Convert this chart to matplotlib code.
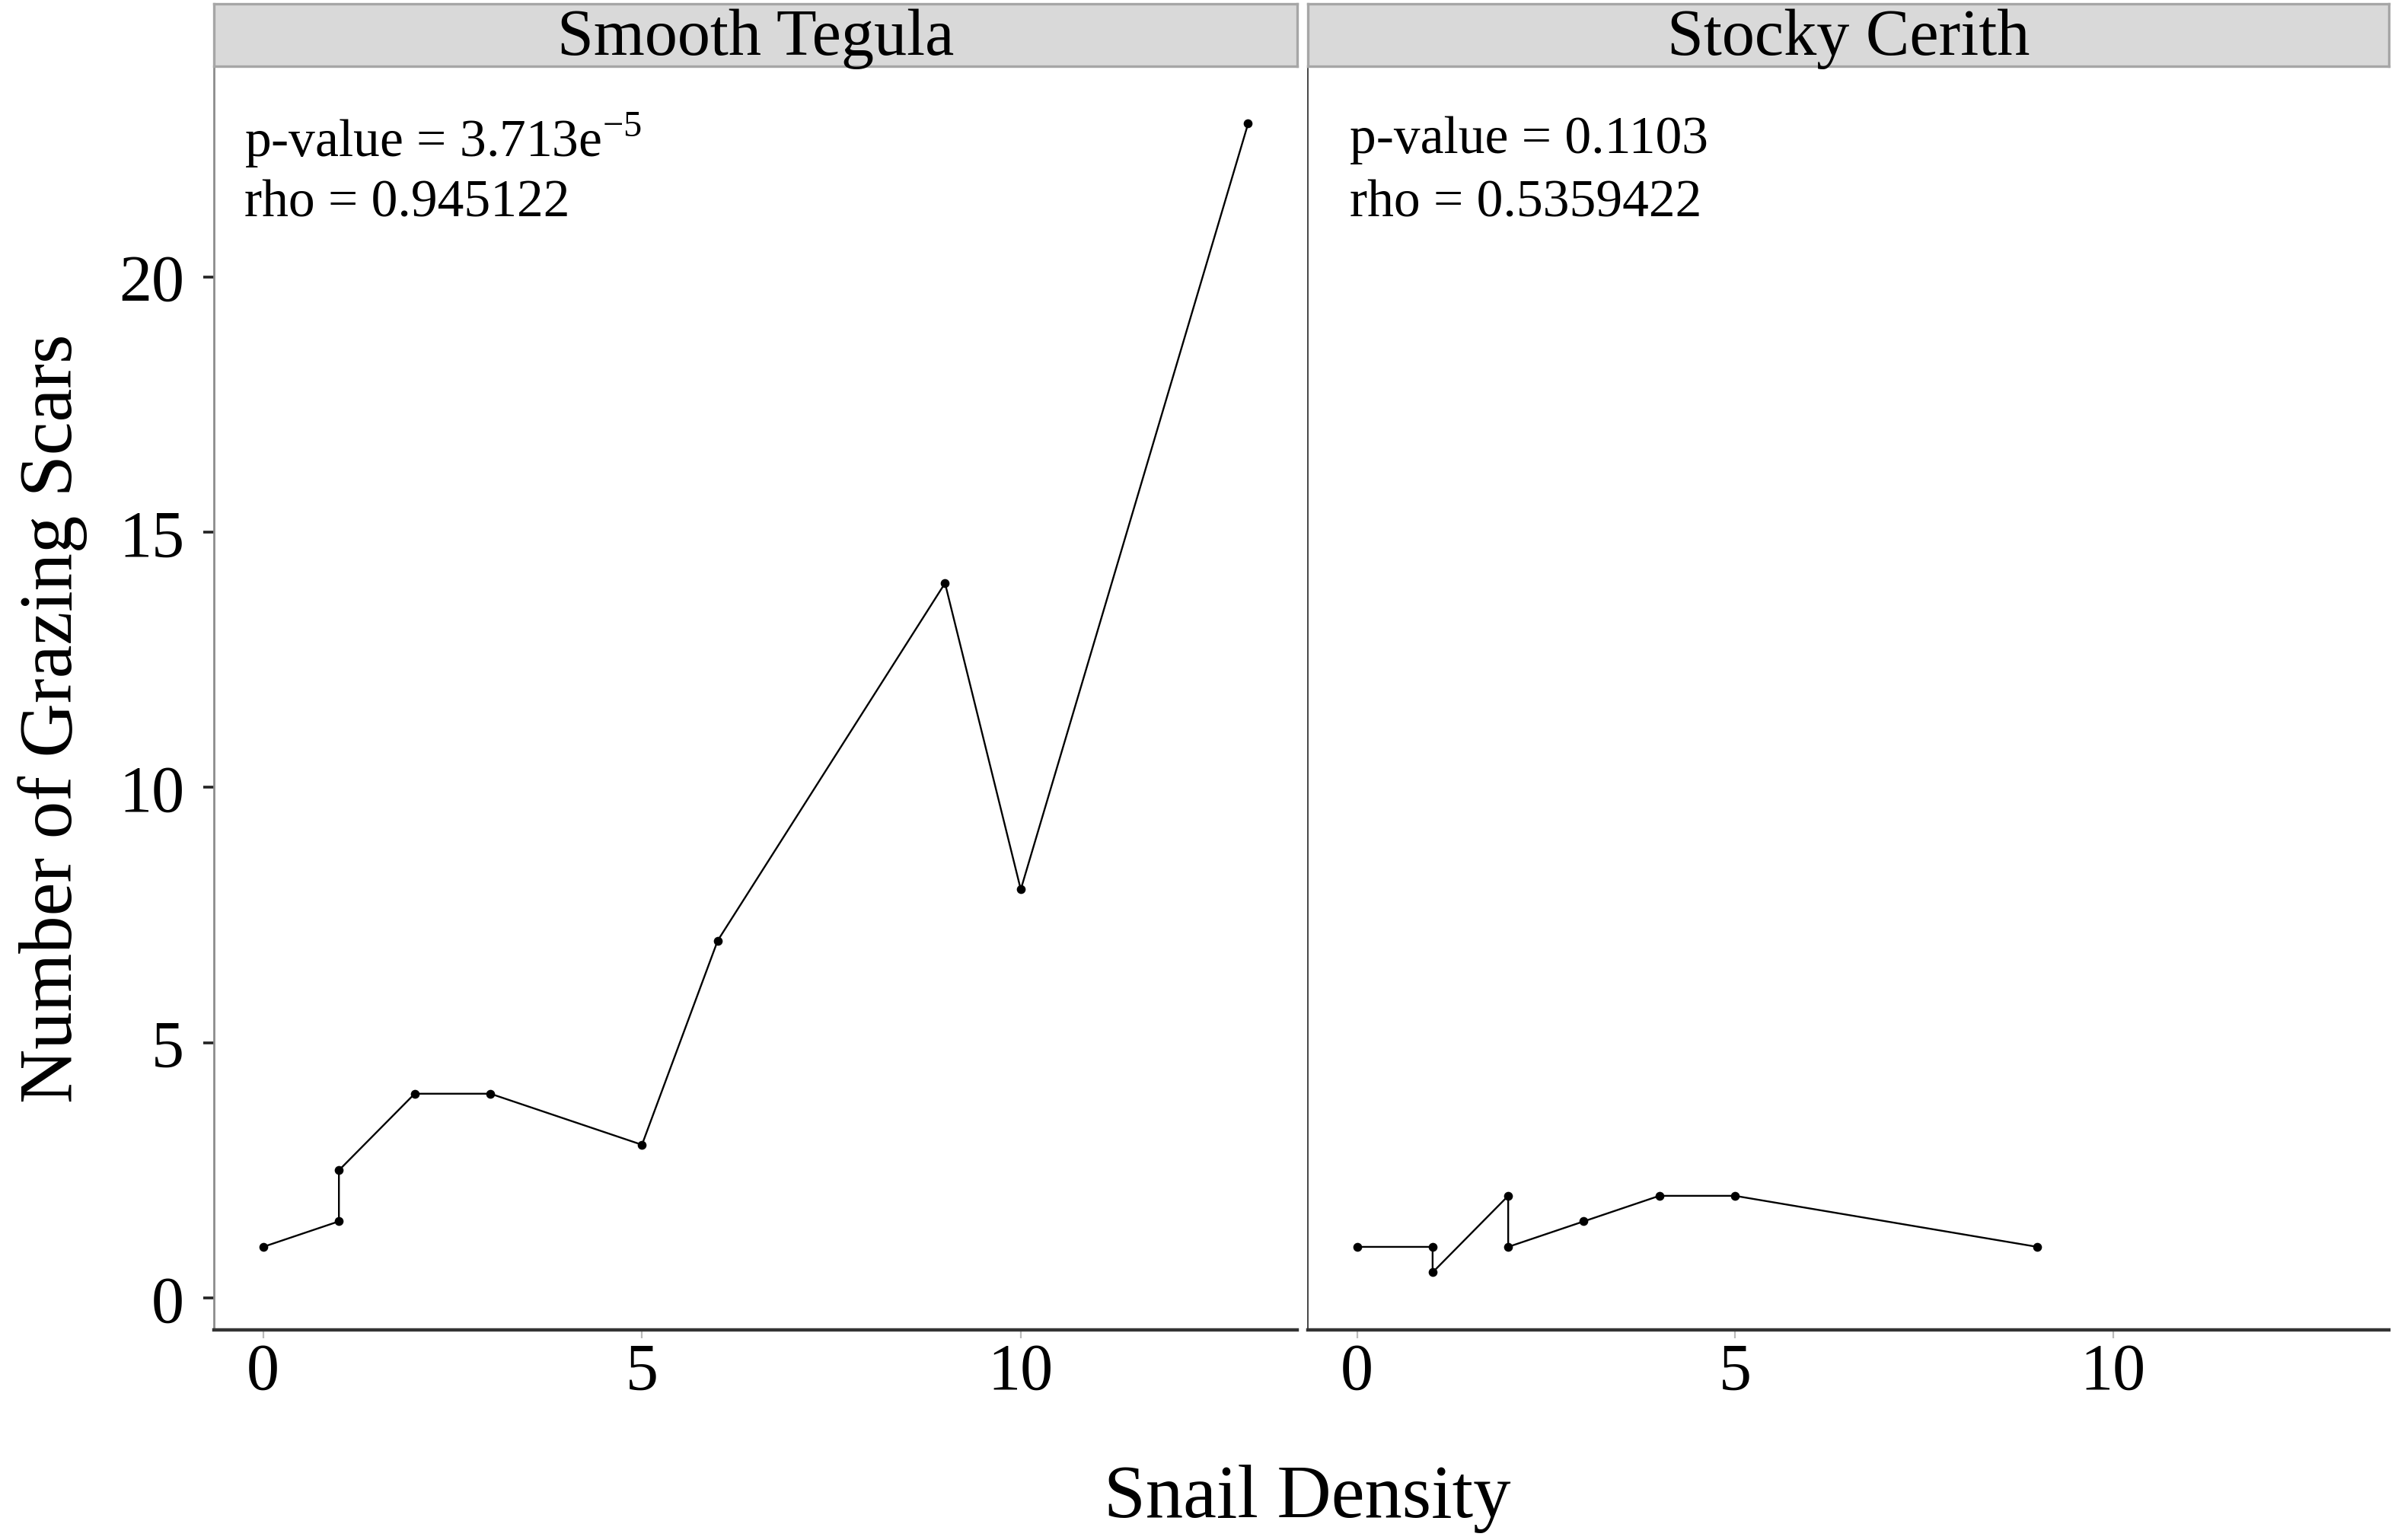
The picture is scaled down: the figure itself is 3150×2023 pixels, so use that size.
import matplotlib
matplotlib.use("Agg")
import matplotlib.pyplot as plt

# Data
panel_titles = ["Smooth Tegula", "Stocky Cerith"]

tegula_density = [0, 1, 1, 2, 3, 5, 6, 9, 10, 13]
tegula_scars = [1, 1.5, 2.5, 4, 4, 3, 7, 14, 8, 23]

cerith_density = [0, 1, 1, 2, 2, 3, 4, 5, 9]
cerith_scars = [1, 1, 0.5, 2, 1, 1.5, 2, 2, 1]

p_value_labels = [r"p-value = 3.713e$^{\mathrm{-5}}$", "p-value = 0.1103"]
rho_labels = ["rho = 0.945122", "rho = 0.5359422"]

x_ticks = [0, 5, 10]
y_ticks = [0, 5, 10, 15, 20]

plt.rcParams['font.family'] = ['Liberation Serif', 'DejaVu Serif']
plt.rcParams['mathtext.fontset'] = 'custom'
plt.rcParams['mathtext.rm'] = 'Liberation Serif'


def draw_panel(fig, rect, x, y, title, ptxt, rtxt, show_y, text_x):
    ax = fig.add_axes(rect)
    ax.plot(x, y, color="black", lw=0.85, marker="o", markersize=4.2,
            markerfacecolor="black", markeredgewidth=0)
    ax.set_xlim(-0.65, 13.65)
    ax.set_ylim(-0.625, 24.125)
    ax.set_xticks(x_ticks)
    ax.set_yticks(y_ticks)
    ax.spines['top'].set_visible(False)
    ax.spines['right'].set_visible(False)
    ax.spines['bottom'].set_color("#333333")
    ax.spines['bottom'].set_linewidth(1.6)
    ax.spines['left'].set_color("#8c8c8c" if show_y else "#444444")
    ax.spines['left'].set_linewidth(1.0 if show_y else 0.7)
    ax.tick_params(axis='x', length=4, width=0.8, color="#bbbbbb",
                   labelsize=31, pad=2)
    if show_y:
        ax.tick_params(axis='y', length=5, width=1.3, color="#222222",
                       labelsize=31, pad=9)
    else:
        ax.tick_params(axis='y', left=False, labelleft=False)

    ax.text(text_x, 0.942, ptxt, transform=ax.transAxes, fontsize=25,
            ha='left', va='center')
    ax.text(text_x, 0.892, rtxt, transform=ax.transAxes, fontsize=25,
            ha='left', va='center')

    # facet strip on top of the panel
    strip = fig.add_axes([rect[0], rect[1] + rect[3], rect[2], 0.0405])
    strip.set_facecolor("#D9D9D9")
    strip.set_xticks([])
    strip.set_yticks([])
    for s in strip.spines.values():
        s.set_color("#a6a6a6")
        s.set_linewidth(1.2)
    strip.text(0.5, 0.45, title, transform=strip.transAxes, fontsize=31,
               ha='center', va='center')
    return ax


fig = plt.figure(figsize=(15.75, 10.12), dpi=200)

draw_panel(fig, [0.0892, 0.1364, 0.4518, 0.8201], tegula_density, tegula_scars,
           panel_titles[0], p_value_labels[0], rho_labels[0], True, 0.028)
draw_panel(fig, [0.5454, 0.1364, 0.4508, 0.8201], cerith_density, cerith_scars,
           panel_titles[1], p_value_labels[1], rho_labels[1], False, 0.039)

fig.text(0.022, 0.5336, "Number of Grazing Scars", rotation=90,
         fontsize=35.5, ha='center', va='center')
fig.text(0.545, 0.027, "Snail Density", fontsize=35.5,
         ha='center', va='center')

fig.savefig("out.png", dpi=200, facecolor="white")
